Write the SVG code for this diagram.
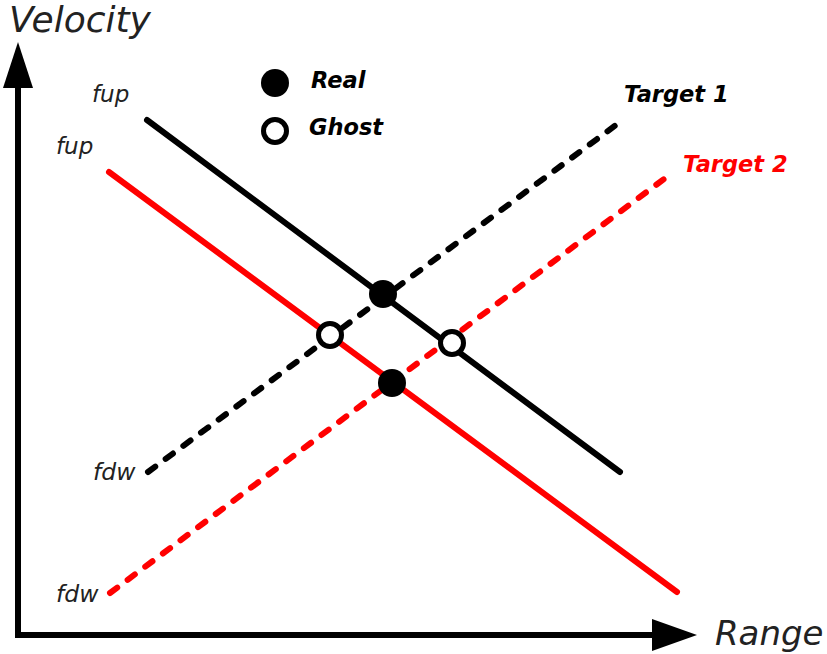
<svg xmlns="http://www.w3.org/2000/svg" width="827" height="654" viewBox="0 0 827 654">
<style>
.ax{stroke:#000;stroke-width:6;fill:none}
.sol{stroke-width:6;stroke-linecap:round;fill:none}
.dash{stroke-width:6;stroke-linecap:round;stroke-dasharray:9 13;fill:none}
.k{stroke:#000}
.r{stroke:#ff0000}
.lab{font-family:"DejaVu Sans",Verdana,sans-serif;font-style:italic;fill:#222}
.bold{font-family:"DejaVu Sans",Verdana,sans-serif;font-style:italic;font-weight:bold;font-size:22.5px}
.real{fill:#000}
.ghost{fill:#fff;stroke:#000;stroke-width:5}
</style>
<rect width="827" height="654" fill="#fff"/>
<g id="axes">
<polyline class="ax" points="18,86 18,635 655,635"/>
<polygon points="18,42 3,88 33,88" fill="#000"/>
<polygon points="697,635 652,619 652,651" fill="#000"/>
<text class="lab" x="9" y="32" font-size="36" fill="#222">Velocity</text>
<text class="lab" x="715" y="645" font-size="34">Range</text>
</g>
<g id="connectors">
<line class="sol k" x1="147" y1="120" x2="620" y2="472"/>
<line class="sol r" x1="109" y1="172" x2="677" y2="592"/>
<line class="dash k" x1="148" y1="472" x2="620" y2="122"/>
<line class="dash r" x1="110" y1="593" x2="668" y2="176"/>
</g>
<g id="labels">
<text class="lab" x="92" y="102" font-size="23">fup</text>
<text class="lab" x="56" y="154" font-size="23">fup</text>
<text class="lab" x="93" y="480" font-size="23.5">fdw</text>
<text class="lab" x="56" y="602" font-size="23.5">fdw</text>
<text class="bold" x="624" y="102" fill="#000">Target 1</text>
<text class="bold" x="683" y="172" fill="#ff0000">Target 2</text>
</g>
<g id="legend">
<circle class="real" cx="275" cy="83" r="14"/>
<text class="bold" x="311" y="88" fill="#000">Real</text>
<circle class="ghost" cx="275" cy="131" r="11.5"/>
<text class="bold" x="309" y="135" fill="#000">Ghost</text>
</g>
<g id="real1"><circle class="real" cx="383" cy="294" r="14"/></g>
<g id="real2"><circle class="real" cx="392" cy="383" r="14"/></g>
<g id="ghost1"><circle class="ghost" cx="330" cy="335" r="11.5"/></g>
<g id="ghost2"><circle class="ghost" cx="452" cy="343" r="11.5"/></g>
</svg>
